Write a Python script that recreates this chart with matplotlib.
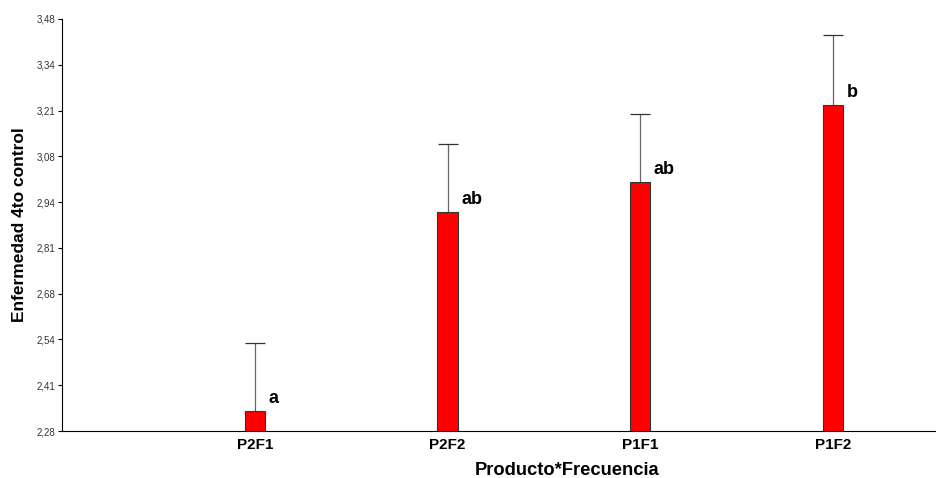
import numpy as np
import matplotlib.pyplot as plt

plt.rcParams['font.family'] = ['Liberation Sans', 'DejaVu Sans']

## treatment groups and group means
grupos = ['P2F1', 'P2F2', 'P1F1', 'P1F2']
medias = [2.338, 2.918, 3.006, 3.230]
## upper error (top of whisker minus mean)
error_sup = [0.199, 0.199, 0.198, 0.202]
letras = ['a', 'ab', 'ab', 'b']

## y axis ticks, 9 even steps between min and max
y_min, y_max = 2.28, 3.48
ticks = np.linspace(y_min, y_max, 10)

fig = plt.figure(figsize=(9.37, 4.78), dpi=100)
ax = fig.add_axes([0.0662, 0.0983, 0.932, 0.862])

x = np.arange(1, len(grupos) + 1)
medias = np.array(medias)
tope = medias + np.array(error_sup)

# whiskers go up only, with a cap on top
ax.vlines(x, medias, tope, color='#666666', linewidth=0.9, zorder=2)
ax.hlines(tope, x - 0.052, x + 0.052, color='#333333', linewidth=0.9, zorder=2)
ax.bar(x, medias - y_min, bottom=y_min, width=0.105,
       color='#ff0000', edgecolor='#333333', linewidth=0.8, zorder=3)

for xi, m, l in zip(x, medias, letras):
    ax.text(xi + 0.07, m + 0.012, l, fontsize=13, fontweight='bold',
            ha='left', va='bottom')

ax.set_xlim(0, 4.53)
ax.set_ylim(y_min, y_max)
ax.set_yticks(ticks)
# labels truncated to two decimals, comma as separator
ax.set_yticklabels([f'{np.floor(t * 100 + 1e-6) / 100:.2f}'.replace('.', ',') for t in ticks],
                   fontsize=7, color='#333333')
ax.set_xticks(x)
ax.set_xticklabels(grupos, fontsize=11, fontweight='bold')
ax.tick_params(axis='x', length=0, pad=5)
ax.tick_params(axis='y', length=3, width=0.8, pad=2)

ax.spines['top'].set_visible(False)
ax.spines['right'].set_visible(False)
ax.spines['left'].set_linewidth(0.8)
ax.spines['bottom'].set_linewidth(0.8)

ax.set_xlabel('Producto*Frecuencia', fontsize=13.2, fontweight='bold')
ax.set_ylabel('Enfermedad 4to control', fontsize=12.5, fontweight='bold')
ax.xaxis.set_label_coords(0.578, -0.075)
ax.yaxis.set_label_coords(-0.040, 0.5)

plt.savefig('out.png', dpi=100)
